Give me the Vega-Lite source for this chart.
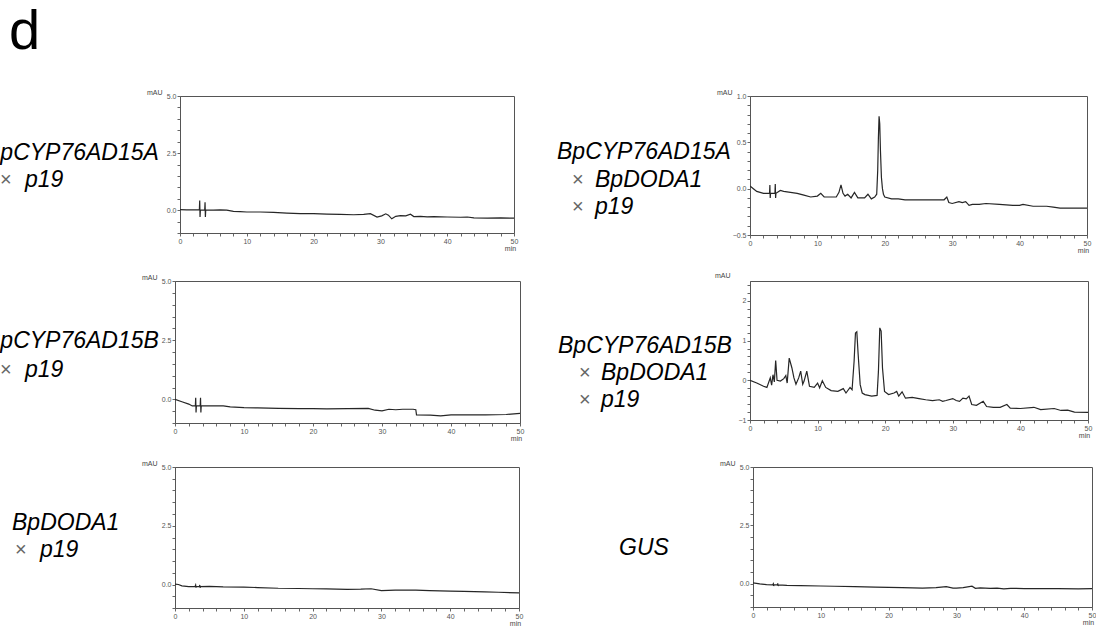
{
  "$schema": "https://vega.github.io/schema/vega-lite/v6.json",
  "background": "white",
  "padding": {"left": 0, "top": 3, "right": 0, "bottom": 0},
  "title": {"text": "d", "fontSize": 56, "font": "Liberation Sans", "fontWeight": "normal", "anchor": "start", "dx": 9, "offset": 27, "color": "black"},
  "config": {
    "view": {"stroke": "#555", "strokeWidth": 1},
    "axis": {"labelFont": "Liberation Sans", "titleFont": "Liberation Sans", "labelFontSize": 7, "titleFontSize": 7, "titleFontWeight": "normal", "labelColor": "#555", "titleColor": "#444", "domainColor": "#555", "tickColor": "#666", "tickSize": 3, "grid": false, "labelPadding": 1, "labelFlush": false, "labelOverlap": false}
  },
  "datasets": {
    "labels": [
      {"panel": "A", "line": 1, "op": "none", "text": "BpCYP76AD15A"},
      {"panel": "A", "line": 2, "op": "×", "text": "p19"},
      {"panel": "B", "line": 1, "op": "none", "text": "BpCYP76AD15A"},
      {"panel": "B", "line": 2, "op": "×", "text": "BpDODA1"},
      {"panel": "B", "line": 3, "op": "×", "text": "p19"},
      {"panel": "C", "line": 1, "op": "none", "text": "BpCYP76AD15B"},
      {"panel": "C", "line": 2, "op": "×", "text": "p19"},
      {"panel": "D", "line": 1, "op": "none", "text": "BpCYP76AD15B"},
      {"panel": "D", "line": 2, "op": "×", "text": "BpDODA1"},
      {"panel": "D", "line": 3, "op": "×", "text": "p19"},
      {"panel": "E", "line": 1, "op": "none", "text": "BpDODA1"},
      {"panel": "E", "line": 2, "op": "×", "text": "p19"},
      {"panel": "F", "line": 1, "op": "none", "text": "GUS"}
    ],
    "trace": [
      {"p":"A","t":0,"v":0.02},{"p":"A","t":1,"v":0.01},{"p":"A","t":2,"v":0.01},{"p":"A","t":2.9,"v":0.01},{"p":"A","t":2.95,"v":0.42},{"p":"A","t":3.0,"v":-0.3},{"p":"A","t":3.05,"v":0.0},{"p":"A","t":3.7,"v":0.0},{"p":"A","t":3.75,"v":0.35},{"p":"A","t":3.8,"v":-0.3},{"p":"A","t":3.85,"v":0.0},{"p":"A","t":5,"v":0.0},{"p":"A","t":6,"v":0.01},{"p":"A","t":7,"v":0.0},{"p":"A","t":8,"v":-0.05},{"p":"A","t":9,"v":-0.06},{"p":"A","t":10,"v":-0.08},{"p":"A","t":12,"v":-0.08},{"p":"A","t":14,"v":-0.1},{"p":"A","t":16,"v":-0.13},{"p":"A","t":18,"v":-0.15},{"p":"A","t":20,"v":-0.15},{"p":"A","t":22,"v":-0.17},{"p":"A","t":24,"v":-0.18},{"p":"A","t":26,"v":-0.2},{"p":"A","t":27.5,"v":-0.18},{"p":"A","t":28.5,"v":-0.15},{"p":"A","t":29.5,"v":-0.3},{"p":"A","t":30.2,"v":-0.25},{"p":"A","t":30.8,"v":-0.16},{"p":"A","t":31.2,"v":-0.22},{"p":"A","t":31.7,"v":-0.38},{"p":"A","t":32.3,"v":-0.27},{"p":"A","t":33,"v":-0.24},{"p":"A","t":33.8,"v":-0.25},{"p":"A","t":34.5,"v":-0.18},{"p":"A","t":35,"v":-0.28},{"p":"A","t":36,"v":-0.27},{"p":"A","t":37,"v":-0.29},{"p":"A","t":38,"v":-0.28},{"p":"A","t":40,"v":-0.3},{"p":"A","t":42,"v":-0.31},{"p":"A","t":43,"v":-0.3},{"p":"A","t":44,"v":-0.34},{"p":"A","t":46,"v":-0.35},{"p":"A","t":48,"v":-0.34},{"p":"A","t":50,"v":-0.35},
      {"p":"B","t":0,"v":0.03},{"p":"B","t":0.5,"v":0.0},{"p":"B","t":1,"v":-0.03},{"p":"B","t":2,"v":-0.05},{"p":"B","t":2.9,"v":-0.05},{"p":"B","t":2.95,"v":0.04},{"p":"B","t":3.0,"v":-0.1},{"p":"B","t":3.05,"v":-0.05},{"p":"B","t":3.7,"v":-0.05},{"p":"B","t":3.75,"v":0.05},{"p":"B","t":3.8,"v":-0.1},{"p":"B","t":3.85,"v":-0.05},{"p":"B","t":4.5,"v":-0.02},{"p":"B","t":5,"v":-0.03},{"p":"B","t":6,"v":-0.04},{"p":"B","t":7,"v":-0.05},{"p":"B","t":8,"v":-0.07},{"p":"B","t":9,"v":-0.09},{"p":"B","t":10,"v":-0.08},{"p":"B","t":10.5,"v":-0.05},{"p":"B","t":11,"v":-0.09},{"p":"B","t":12,"v":-0.09},{"p":"B","t":12.8,"v":-0.09},{"p":"B","t":13.2,"v":-0.04},{"p":"B","t":13.5,"v":0.04},{"p":"B","t":13.8,"v":-0.05},{"p":"B","t":14.1,"v":-0.08},{"p":"B","t":14.5,"v":-0.06},{"p":"B","t":15,"v":-0.1},{"p":"B","t":15.5,"v":-0.04},{"p":"B","t":16,"v":-0.1},{"p":"B","t":17,"v":-0.1},{"p":"B","t":17.5,"v":-0.06},{"p":"B","t":18,"v":-0.11},{"p":"B","t":18.5,"v":-0.09},{"p":"B","t":18.8,"v":-0.06},{"p":"B","t":18.95,"v":0.2},{"p":"B","t":19.05,"v":0.55},{"p":"B","t":19.15,"v":0.78},{"p":"B","t":19.25,"v":0.7},{"p":"B","t":19.35,"v":0.42},{"p":"B","t":19.5,"v":0.12},{"p":"B","t":19.65,"v":0.0},{"p":"B","t":19.8,"v":-0.06},{"p":"B","t":20,"v":-0.09},{"p":"B","t":21,"v":-0.11},{"p":"B","t":22,"v":-0.11},{"p":"B","t":23,"v":-0.12},{"p":"B","t":25,"v":-0.12},{"p":"B","t":27,"v":-0.12},{"p":"B","t":28.8,"v":-0.12},{"p":"B","t":29.2,"v":-0.09},{"p":"B","t":29.5,"v":-0.15},{"p":"B","t":30,"v":-0.16},{"p":"B","t":31,"v":-0.14},{"p":"B","t":31.5,"v":-0.15},{"p":"B","t":32,"v":-0.14},{"p":"B","t":32.5,"v":-0.18},{"p":"B","t":33,"v":-0.17},{"p":"B","t":34,"v":-0.17},{"p":"B","t":35,"v":-0.16},{"p":"B","t":37,"v":-0.17},{"p":"B","t":39,"v":-0.18},{"p":"B","t":40,"v":-0.18},{"p":"B","t":40.5,"v":-0.17},{"p":"B","t":42,"v":-0.19},{"p":"B","t":44,"v":-0.19},{"p":"B","t":45,"v":-0.2},{"p":"B","t":46,"v":-0.21},{"p":"B","t":48,"v":-0.21},{"p":"B","t":50,"v":-0.21},
      {"p":"C","t":0,"v":0.0},{"p":"C","t":1,"v":-0.1},{"p":"C","t":2,"v":-0.2},{"p":"C","t":2.5,"v":-0.28},{"p":"C","t":2.95,"v":-0.28},{"p":"C","t":3.0,"v":0.07},{"p":"C","t":3.05,"v":-0.56},{"p":"C","t":3.1,"v":-0.28},{"p":"C","t":3.65,"v":-0.28},{"p":"C","t":3.7,"v":0.07},{"p":"C","t":3.75,"v":-0.56},{"p":"C","t":3.8,"v":-0.28},{"p":"C","t":5,"v":-0.28},{"p":"C","t":7,"v":-0.28},{"p":"C","t":8,"v":-0.32},{"p":"C","t":10,"v":-0.35},{"p":"C","t":12,"v":-0.36},{"p":"C","t":15,"v":-0.38},{"p":"C","t":18,"v":-0.39},{"p":"C","t":20,"v":-0.39},{"p":"C","t":22,"v":-0.4},{"p":"C","t":25,"v":-0.39},{"p":"C","t":28,"v":-0.38},{"p":"C","t":29,"v":-0.46},{"p":"C","t":30,"v":-0.49},{"p":"C","t":31,"v":-0.42},{"p":"C","t":32,"v":-0.44},{"p":"C","t":33,"v":-0.42},{"p":"C","t":34.5,"v":-0.42},{"p":"C","t":34.9,"v":-0.44},{"p":"C","t":35,"v":-0.66},{"p":"C","t":37,"v":-0.67},{"p":"C","t":38.5,"v":-0.7},{"p":"C","t":40,"v":-0.66},{"p":"C","t":42,"v":-0.66},{"p":"C","t":45,"v":-0.66},{"p":"C","t":48,"v":-0.64},{"p":"C","t":50,"v":-0.59},
      {"p":"D","t":0,"v":0.0},{"p":"D","t":1,"v":-0.07},{"p":"D","t":2,"v":-0.15},{"p":"D","t":2.5,"v":-0.18},{"p":"D","t":3,"v":0.06},{"p":"D","t":3.2,"v":-0.12},{"p":"D","t":3.4,"v":0.14},{"p":"D","t":3.6,"v":-0.04},{"p":"D","t":3.8,"v":0.5},{"p":"D","t":4.0,"v":0.0},{"p":"D","t":4.5,"v":-0.02},{"p":"D","t":5.0,"v":0.04},{"p":"D","t":5.3,"v":0.12},{"p":"D","t":5.5,"v":-0.07},{"p":"D","t":5.8,"v":0.56},{"p":"D","t":6.2,"v":0.31},{"p":"D","t":6.5,"v":0.06},{"p":"D","t":6.8,"v":-0.1},{"p":"D","t":7.2,"v":0.06},{"p":"D","t":7.5,"v":0.23},{"p":"D","t":7.8,"v":-0.1},{"p":"D","t":8.0,"v":-0.02},{"p":"D","t":8.4,"v":0.23},{"p":"D","t":8.8,"v":-0.15},{"p":"D","t":9.5,"v":-0.18},{"p":"D","t":10,"v":-0.07},{"p":"D","t":10.3,"v":-0.19},{"p":"D","t":10.7,"v":-0.01},{"p":"D","t":11.2,"v":-0.18},{"p":"D","t":12,"v":-0.26},{"p":"D","t":13,"v":-0.28},{"p":"D","t":13.8,"v":-0.21},{"p":"D","t":14.2,"v":-0.32},{"p":"D","t":14.8,"v":-0.18},{"p":"D","t":15.1,"v":-0.24},{"p":"D","t":15.4,"v":0.48},{"p":"D","t":15.6,"v":1.19},{"p":"D","t":15.8,"v":1.22},{"p":"D","t":16.0,"v":0.65},{"p":"D","t":16.3,"v":-0.11},{"p":"D","t":16.6,"v":-0.32},{"p":"D","t":17,"v":-0.36},{"p":"D","t":18,"v":-0.4},{"p":"D","t":18.8,"v":-0.38},{"p":"D","t":19.0,"v":0.23},{"p":"D","t":19.2,"v":1.32},{"p":"D","t":19.4,"v":1.24},{"p":"D","t":19.6,"v":0.31},{"p":"D","t":19.9,"v":-0.28},{"p":"D","t":20.5,"v":-0.36},{"p":"D","t":21.3,"v":-0.32},{"p":"D","t":21.7,"v":-0.28},{"p":"D","t":22.0,"v":-0.4},{"p":"D","t":22.5,"v":-0.29},{"p":"D","t":23,"v":-0.45},{"p":"D","t":24,"v":-0.43},{"p":"D","t":25,"v":-0.46},{"p":"D","t":26,"v":-0.49},{"p":"D","t":27,"v":-0.51},{"p":"D","t":28,"v":-0.49},{"p":"D","t":28.5,"v":-0.53},{"p":"D","t":29,"v":-0.51},{"p":"D","t":30,"v":-0.46},{"p":"D","t":30.5,"v":-0.51},{"p":"D","t":31,"v":-0.53},{"p":"D","t":31.5,"v":-0.45},{"p":"D","t":32,"v":-0.47},{"p":"D","t":32.4,"v":-0.4},{"p":"D","t":32.8,"v":-0.61},{"p":"D","t":33.5,"v":-0.63},{"p":"D","t":34.5,"v":-0.53},{"p":"D","t":35,"v":-0.66},{"p":"D","t":36,"v":-0.68},{"p":"D","t":37,"v":-0.68},{"p":"D","t":38,"v":-0.61},{"p":"D","t":38.5,"v":-0.7},{"p":"D","t":40,"v":-0.71},{"p":"D","t":42,"v":-0.68},{"p":"D","t":43,"v":-0.74},{"p":"D","t":45,"v":-0.71},{"p":"D","t":46,"v":-0.76},{"p":"D","t":47,"v":-0.75},{"p":"D","t":48,"v":-0.8},{"p":"D","t":50,"v":-0.81},
      {"p":"E","t":0,"v":0.02},{"p":"E","t":0.5,"v":0.0},{"p":"E","t":1,"v":-0.06},{"p":"E","t":2,"v":-0.09},{"p":"E","t":2.9,"v":-0.09},{"p":"E","t":3.0,"v":-0.02},{"p":"E","t":3.05,"v":-0.13},{"p":"E","t":3.1,"v":-0.09},{"p":"E","t":3.55,"v":-0.09},{"p":"E","t":3.6,"v":-0.02},{"p":"E","t":3.65,"v":-0.14},{"p":"E","t":3.7,"v":-0.09},{"p":"E","t":5,"v":-0.08},{"p":"E","t":7,"v":-0.1},{"p":"E","t":10,"v":-0.11},{"p":"E","t":12,"v":-0.13},{"p":"E","t":15,"v":-0.16},{"p":"E","t":18,"v":-0.17},{"p":"E","t":20,"v":-0.18},{"p":"E","t":22,"v":-0.19},{"p":"E","t":25,"v":-0.21},{"p":"E","t":27,"v":-0.2},{"p":"E","t":28.5,"v":-0.18},{"p":"E","t":30,"v":-0.26},{"p":"E","t":32,"v":-0.24},{"p":"E","t":35,"v":-0.24},{"p":"E","t":37,"v":-0.26},{"p":"E","t":40,"v":-0.28},{"p":"E","t":42,"v":-0.29},{"p":"E","t":45,"v":-0.31},{"p":"E","t":47,"v":-0.33},{"p":"E","t":50,"v":-0.36},
      {"p":"F","t":0,"v":0.03},{"p":"F","t":1,"v":-0.01},{"p":"F","t":2,"v":-0.04},{"p":"F","t":2.9,"v":-0.05},{"p":"F","t":3.0,"v":0.0},{"p":"F","t":3.05,"v":-0.1},{"p":"F","t":3.1,"v":-0.05},{"p":"F","t":3.6,"v":-0.05},{"p":"F","t":3.65,"v":0.01},{"p":"F","t":3.7,"v":-0.1},{"p":"F","t":3.75,"v":-0.05},{"p":"F","t":5,"v":-0.07},{"p":"F","t":7,"v":-0.08},{"p":"F","t":10,"v":-0.1},{"p":"F","t":12,"v":-0.11},{"p":"F","t":15,"v":-0.13},{"p":"F","t":18,"v":-0.15},{"p":"F","t":20,"v":-0.16},{"p":"F","t":22,"v":-0.17},{"p":"F","t":25,"v":-0.19},{"p":"F","t":27,"v":-0.17},{"p":"F","t":28.5,"v":-0.13},{"p":"F","t":29.5,"v":-0.19},{"p":"F","t":30,"v":-0.19},{"p":"F","t":31,"v":-0.17},{"p":"F","t":32.3,"v":-0.11},{"p":"F","t":32.8,"v":-0.2},{"p":"F","t":33.5,"v":-0.18},{"p":"F","t":35,"v":-0.2},{"p":"F","t":36,"v":-0.19},{"p":"F","t":37,"v":-0.22},{"p":"F","t":38,"v":-0.2},{"p":"F","t":40,"v":-0.21},{"p":"F","t":42,"v":-0.21},{"p":"F","t":45,"v":-0.21},{"p":"F","t":48,"v":-0.22},{"p":"F","t":50,"v":-0.21}
    ]
  },
  "spacing": 16,
  "vconcat": [
    {
      "bounds": "flush", "spacing": 0,
      "hconcat": [
        {"width": 180, "height": 139, "view": {"stroke": null}, "data": {"name": "labels"}, "transform": [{"filter": "datum.panel === 'A'"}],
         "layer": [
           {"mark": {"type": "text", "align": "left", "baseline": "middle", "fontStyle": "italic", "fontSize": 23, "font": "Liberation Sans", "color": "black", "clip": true},
            "encoding": {"x": {"field": "op", "type": "nominal", "scale": {"type": "point", "domain": ["none", "×"], "range": [-15, 25], "padding": 0}, "axis": null},
                         "y": {"field": "line", "type": "ordinal", "scale": {"type": "point", "domain": [1, 2, 3], "range": [57, 111], "padding": 0}, "axis": null},
                         "text": {"field": "text"}}},
           {"transform": [{"filter": "datum.op === '×'"}],
            "mark": {"type": "text", "align": "left", "baseline": "middle", "fontSize": 20, "font": "Liberation Sans", "color": "#666", "dx": -25, "clip": true},
            "encoding": {"x": {"field": "op", "type": "nominal", "scale": {"type": "point", "domain": ["none", "×"], "range": [-15, 25], "padding": 0}, "axis": null},
                         "y": {"field": "line", "type": "ordinal", "scale": {"type": "point", "domain": [1, 2, 3], "range": [57, 111], "padding": 0}, "axis": null},
                         "text": {"field": "op"}}}
         ]},
        {"width": 334, "height": 137, "data": {"name": "trace"}, "transform": [{"filter": "datum.p === 'A'"}],
         "mark": {"type": "line", "color": "#262626", "strokeWidth": 1.2, "clip": true},
         "encoding": {
           "x": {"field": "t", "type": "quantitative", "scale": {"domain": [0, 50], "nice": false, "zero": false},
                 "axis": {"values": [0,2,4,6,8,10,12,14,16,18,20,22,24,26,28,30,32,34,36,38,40,42,44,46,48,50], "format": "d", "labelExpr": "datum.value % 10 === 0 ? datum.label : ''", "title": "min", "titleX": 330, "titleY": 11, "titleAlign": "center", "titleBaseline": "top"}},
           "y": {"field": "v", "type": "quantitative", "scale": {"domain": [-1, 5], "nice": false, "zero": false},
                 "axis": {"values": [-1,-0.5,0,0.5,1,1.5,2,2.5,3,3.5,4,4.5,5], "format": ".1f", "labelExpr": "datum.value === 0 || datum.value === 2.5 || datum.value === 5 ? datum.label : ''", "title": "mAU", "titleAngle": 0, "titleX": -18, "titleY": -1, "titleAlign": "right", "titleBaseline": "bottom"}}
         }},
        {"width": 236, "height": 139, "view": {"stroke": null}, "data": {"name": "labels"}, "transform": [{"filter": "datum.panel === 'B'"}],
         "layer": [
           {"mark": {"type": "text", "align": "left", "baseline": "middle", "fontStyle": "italic", "fontSize": 23, "font": "Liberation Sans", "color": "black", "clip": true},
            "encoding": {"x": {"field": "op", "type": "nominal", "scale": {"type": "point", "domain": ["none", "×"], "range": [43, 81], "padding": 0}, "axis": null},
                         "y": {"field": "line", "type": "ordinal", "scale": {"type": "point", "domain": [1, 2, 3], "range": [56, 111], "padding": 0}, "axis": null},
                         "text": {"field": "text"}}},
           {"transform": [{"filter": "datum.op === '×'"}],
            "mark": {"type": "text", "align": "left", "baseline": "middle", "fontSize": 20, "font": "Liberation Sans", "color": "#666", "dx": -23, "clip": true},
            "encoding": {"x": {"field": "op", "type": "nominal", "scale": {"type": "point", "domain": ["none", "×"], "range": [43, 81], "padding": 0}, "axis": null},
                         "y": {"field": "line", "type": "ordinal", "scale": {"type": "point", "domain": [1, 2, 3], "range": [56, 111], "padding": 0}, "axis": null},
                         "text": {"field": "op"}}}
         ]},
        {"width": 337, "height": 139, "data": {"name": "trace"}, "transform": [{"filter": "datum.p === 'B'"}],
         "mark": {"type": "line", "color": "#262626", "strokeWidth": 1.2, "clip": true},
         "encoding": {
           "x": {"field": "t", "type": "quantitative", "scale": {"domain": [0, 50], "nice": false, "zero": false},
                 "axis": {"values": [0,2,4,6,8,10,12,14,16,18,20,22,24,26,28,30,32,34,36,38,40,42,44,46,48,50], "format": "d", "labelExpr": "datum.value % 10 === 0 ? datum.label : ''", "title": "min", "titleX": 333, "titleY": 11, "titleAlign": "center", "titleBaseline": "top"}},
           "y": {"field": "v", "type": "quantitative", "scale": {"domain": [-0.5, 1.0], "nice": false, "zero": false},
                 "axis": {"values": [-0.5,-0.4,-0.3,-0.2,-0.1,0,0.1,0.2,0.3,0.4,0.5,0.6,0.7,0.8,0.9,1.0], "format": ".1f", "labelExpr": "abs(datum.value*2 - round(datum.value*2)) < 0.000001 ? datum.label : ''", "title": "mAU", "titleAngle": 0, "titleX": -18, "titleY": -1, "titleAlign": "right", "titleBaseline": "bottom"}}
         }}
      ]
    },
    {
      "bounds": "flush", "spacing": 0,
      "hconcat": [
        {"width": 175, "height": 142, "view": {"stroke": null}, "data": {"name": "labels"}, "transform": [{"filter": "datum.panel === 'C'"}],
         "layer": [
           {"mark": {"type": "text", "align": "left", "baseline": "middle", "fontStyle": "italic", "fontSize": 23, "font": "Liberation Sans", "color": "black", "clip": true},
            "encoding": {"x": {"field": "op", "type": "nominal", "scale": {"type": "point", "domain": ["none", "×"], "range": [-15, 25], "padding": 0}, "axis": null},
                         "y": {"field": "line", "type": "ordinal", "scale": {"type": "point", "domain": [1, 2, 3], "range": [60, 118], "padding": 0}, "axis": null},
                         "text": {"field": "text"}}},
           {"transform": [{"filter": "datum.op === '×'"}],
            "mark": {"type": "text", "align": "left", "baseline": "middle", "fontSize": 20, "font": "Liberation Sans", "color": "#666", "dx": -25, "clip": true},
            "encoding": {"x": {"field": "op", "type": "nominal", "scale": {"type": "point", "domain": ["none", "×"], "range": [-15, 25], "padding": 0}, "axis": null},
                         "y": {"field": "line", "type": "ordinal", "scale": {"type": "point", "domain": [1, 2, 3], "range": [60, 118], "padding": 0}, "axis": null},
                         "text": {"field": "op"}}}
         ]},
        {"width": 345, "height": 142, "data": {"name": "trace"}, "transform": [{"filter": "datum.p === 'C'"}],
         "mark": {"type": "line", "color": "#262626", "strokeWidth": 1.2, "clip": true},
         "encoding": {
           "x": {"field": "t", "type": "quantitative", "scale": {"domain": [0, 50], "nice": false, "zero": false},
                 "axis": {"values": [0,2,4,6,8,10,12,14,16,18,20,22,24,26,28,30,32,34,36,38,40,42,44,46,48,50], "format": "d", "labelExpr": "datum.value % 10 === 0 ? datum.label : ''", "title": "min", "titleX": 341, "titleY": 11, "titleAlign": "center", "titleBaseline": "top"}},
           "y": {"field": "v", "type": "quantitative", "scale": {"domain": [-1, 5], "nice": false, "zero": false},
                 "axis": {"values": [-1,-0.5,0,0.5,1,1.5,2,2.5,3,3.5,4,4.5,5], "format": ".1f", "labelExpr": "datum.value === 0 || datum.value === 2.5 || datum.value === 5 ? datum.label : ''", "title": "mAU", "titleAngle": 0, "titleX": -18, "titleY": -1, "titleAlign": "right", "titleBaseline": "bottom"}}
         }},
        {"width": 230, "height": 142, "view": {"stroke": null}, "data": {"name": "labels"}, "transform": [{"filter": "datum.panel === 'D'"}],
         "layer": [
           {"mark": {"type": "text", "align": "left", "baseline": "middle", "fontStyle": "italic", "fontSize": 23, "font": "Liberation Sans", "color": "black", "clip": true},
            "encoding": {"x": {"field": "op", "type": "nominal", "scale": {"type": "point", "domain": ["none", "×"], "range": [38, 81], "padding": 0}, "axis": null},
                         "y": {"field": "line", "type": "ordinal", "scale": {"type": "point", "domain": [1, 2, 3], "range": [65, 119], "padding": 0}, "axis": null},
                         "text": {"field": "text"}}},
           {"transform": [{"filter": "datum.op === '×'"}],
            "mark": {"type": "text", "align": "left", "baseline": "middle", "fontSize": 20, "font": "Liberation Sans", "color": "#666", "dx": -22, "clip": true},
            "encoding": {"x": {"field": "op", "type": "nominal", "scale": {"type": "point", "domain": ["none", "×"], "range": [38, 81], "padding": 0}, "axis": null},
                         "y": {"field": "line", "type": "ordinal", "scale": {"type": "point", "domain": [1, 2, 3], "range": [65, 119], "padding": 0}, "axis": null},
                         "text": {"field": "op"}}}
         ]},
        {"width": 338, "height": 139, "data": {"name": "trace"}, "transform": [{"filter": "datum.p === 'D'"}],
         "mark": {"type": "line", "color": "#262626", "strokeWidth": 1.2, "clip": true},
         "encoding": {
           "x": {"field": "t", "type": "quantitative", "scale": {"domain": [0, 50], "nice": false, "zero": false},
                 "axis": {"values": [0,2,4,6,8,10,12,14,16,18,20,22,24,26,28,30,32,34,36,38,40,42,44,46,48,50], "format": "d", "labelExpr": "datum.value % 10 === 0 ? datum.label : ''", "title": "min", "titleX": 334, "titleY": 11, "titleAlign": "center", "titleBaseline": "top"}},
           "y": {"field": "v", "type": "quantitative", "scale": {"domain": [-1, 2.5], "nice": false, "zero": false},
                 "axis": {"values": [-1,-0.8,-0.6,-0.4,-0.2,0,0.2,0.4,0.6,0.8,1,1.2,1.4,1.6,1.8,2,2.2,2.4], "labelExpr": "datum.value === -1 || datum.value === 0 || datum.value === 1 || datum.value === 2 ? format(datum.value, '.0f') : ''", "title": "mAU", "titleAngle": 0, "titleX": -20, "titleY": -3, "titleAlign": "right", "titleBaseline": "bottom"}}
         }}
      ]
    },
    {
      "bounds": "flush", "spacing": 0,
      "hconcat": [
        {"width": 175, "height": 141, "view": {"stroke": null}, "data": {"name": "labels"}, "transform": [{"filter": "datum.panel === 'E'"}],
         "layer": [
           {"mark": {"type": "text", "align": "left", "baseline": "middle", "fontStyle": "italic", "fontSize": 23, "font": "Liberation Sans", "color": "black", "clip": true},
            "encoding": {"x": {"field": "op", "type": "nominal", "scale": {"type": "point", "domain": ["none", "×"], "range": [12, 40], "padding": 0}, "axis": null},
                         "y": {"field": "line", "type": "ordinal", "scale": {"type": "point", "domain": [1, 2, 3], "range": [56, 110], "padding": 0}, "axis": null},
                         "text": {"field": "text"}}},
           {"transform": [{"filter": "datum.op === '×'"}],
            "mark": {"type": "text", "align": "left", "baseline": "middle", "fontSize": 20, "font": "Liberation Sans", "color": "#666", "dx": -25, "clip": true},
            "encoding": {"x": {"field": "op", "type": "nominal", "scale": {"type": "point", "domain": ["none", "×"], "range": [12, 40], "padding": 0}, "axis": null},
                         "y": {"field": "line", "type": "ordinal", "scale": {"type": "point", "domain": [1, 2, 3], "range": [56, 110], "padding": 0}, "axis": null},
                         "text": {"field": "op"}}}
         ]},
        {"width": 344, "height": 141, "data": {"name": "trace"}, "transform": [{"filter": "datum.p === 'E'"}],
         "mark": {"type": "line", "color": "#262626", "strokeWidth": 1.2, "clip": true},
         "encoding": {
           "x": {"field": "t", "type": "quantitative", "scale": {"domain": [0, 50], "nice": false, "zero": false},
                 "axis": {"values": [0,2,4,6,8,10,12,14,16,18,20,22,24,26,28,30,32,34,36,38,40,42,44,46,48,50], "format": "d", "labelExpr": "datum.value % 10 === 0 ? datum.label : ''", "title": "min", "titleX": 340, "titleY": 11, "titleAlign": "center", "titleBaseline": "top"}},
           "y": {"field": "v", "type": "quantitative", "scale": {"domain": [-1, 5], "nice": false, "zero": false},
                 "axis": {"values": [-1,-0.5,0,0.5,1,1.5,2,2.5,3,3.5,4,4.5,5], "format": ".1f", "labelExpr": "datum.value === 0 || datum.value === 2.5 || datum.value === 5 ? datum.label : ''", "title": "mAU", "titleAngle": 0, "titleX": -18, "titleY": -1, "titleAlign": "right", "titleBaseline": "bottom"}}
         }},
        {"width": 234, "height": 141, "view": {"stroke": null}, "data": {"name": "labels"}, "transform": [{"filter": "datum.panel === 'F'"}],
         "mark": {"type": "text", "align": "left", "baseline": "middle", "fontStyle": "italic", "fontSize": 23, "font": "Liberation Sans", "color": "black", "clip": true},
         "encoding": {"x": {"field": "op", "type": "nominal", "scale": {"type": "point", "domain": ["none", "×"], "range": [100, 140], "padding": 0}, "axis": null},
                      "y": {"field": "line", "type": "ordinal", "scale": {"type": "point", "domain": [1, 2, 3], "range": [81, 135], "padding": 0}, "axis": null},
                      "text": {"field": "text"}}},
        {"width": 339, "height": 140, "data": {"name": "trace"}, "transform": [{"filter": "datum.p === 'F'"}],
         "mark": {"type": "line", "color": "#262626", "strokeWidth": 1.2, "clip": true},
         "encoding": {
           "x": {"field": "t", "type": "quantitative", "scale": {"domain": [0, 50], "nice": false, "zero": false},
                 "axis": {"values": [0,2,4,6,8,10,12,14,16,18,20,22,24,26,28,30,32,34,36,38,40,42,44,46,48,50], "format": "d", "labelExpr": "datum.value % 10 === 0 ? datum.label : ''", "title": "min", "titleX": 335, "titleY": 11, "titleAlign": "center", "titleBaseline": "top"}},
           "y": {"field": "v", "type": "quantitative", "scale": {"domain": [-1, 5], "nice": false, "zero": false},
                 "axis": {"values": [-1,-0.5,0,0.5,1,1.5,2,2.5,3,3.5,4,4.5,5], "format": ".1f", "labelExpr": "datum.value === 0 || datum.value === 2.5 || datum.value === 5 ? datum.label : ''", "title": "mAU", "titleAngle": 0, "titleX": -18, "titleY": -1, "titleAlign": "right", "titleBaseline": "bottom"}}
         }}
      ]
    }
  ]
}
